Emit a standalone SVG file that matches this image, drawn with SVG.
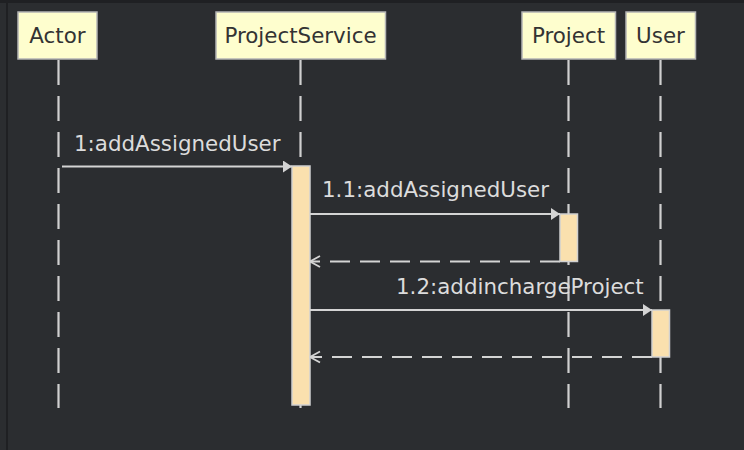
<svg xmlns="http://www.w3.org/2000/svg" width="744" height="450" viewBox="0 0 744 450">
  <style>
    .bg { fill: #2b2d30; }
    .edge { fill: #1f2023; }
    .box { fill: #fefece; stroke: #b4b4b4; stroke-width: 1.5; }
    .boxtext { font-family: "DejaVu Sans", sans-serif; font-size: 21.4px; fill: #333333; text-anchor: middle; }
    .msgtext { font-family: "DejaVu Sans", sans-serif; font-size: 21.4px; fill: #dcdcdc; }
    .life { stroke: #d0d0d0; stroke-width: 2.2; stroke-dasharray: 25 11; fill: none; }
    .act { fill: #fae0ae; stroke: #d0d0d0; stroke-width: 1.5; }
    .msg { stroke: #d4d4d4; stroke-width: 1.8; fill: none; }
    .ret { stroke: #d4d4d4; stroke-width: 1.8; fill: none; stroke-dasharray: 20 10; }
  </style>
  <defs>
    <marker id="solid" markerUnits="userSpaceOnUse" markerWidth="10" markerHeight="13" refX="9" refY="6" orient="auto">
      <path d="M0,0 L9,6 L0,12 Z" fill="#d4d4d4" stroke="none"/>
    </marker>
    <marker id="open" markerUnits="userSpaceOnUse" markerWidth="12" markerHeight="14" refX="10.5" refY="6.5" orient="auto">
      <path d="M0.5,1 L10.5,6.5 L0.5,12" fill="none" stroke="#d4d4d4" stroke-width="1.8" stroke-dasharray="none"/>
    </marker>
  </defs>
  <rect class="bg" x="0" y="0" width="744" height="450"/>
  <rect class="edge" x="0" y="0" width="744" height="3"/>
  <rect class="edge" x="6" y="0" width="2" height="450"/>

  <g id="lifelines">
    <line class="life" x1="58.5" y1="60" x2="58.5" y2="408"/>
    <line class="life" x1="300.5" y1="60" x2="300.5" y2="408"/>
    <line class="life" x1="568.5" y1="60" x2="568.5" y2="408"/>
    <line class="life" x1="660.5" y1="60" x2="660.5" y2="408"/>
  </g>

  <g id="Actor">
    <rect class="box" x="18" y="12" width="79" height="47"/>
    <text class="boxtext" x="57.5" y="43">Actor</text>
  </g>
  <g id="ProjectService">
    <rect class="box" x="216" y="12" width="169.5" height="47"/>
    <text class="boxtext" x="300.5" y="43">ProjectService</text>
    <rect class="act" x="292" y="166" width="18" height="239"/>
  </g>
  <g id="Project">
    <rect class="box" x="522" y="12" width="93.5" height="47"/>
    <text class="boxtext" x="568.5" y="43">Project</text>
    <rect class="act" x="560" y="214" width="17.5" height="47.5"/>
  </g>
  <g id="User">
    <rect class="box" x="626" y="12" width="69.5" height="47"/>
    <text class="boxtext" x="660.5" y="43">User</text>
    <rect class="act" x="652" y="310" width="17.5" height="47"/>
  </g>

  <g id="connectors">
    <line class="msg" x1="62" y1="166.5" x2="292" y2="166.5" marker-end="url(#solid)"/>
    <text class="msgtext" x="74" y="150.5">1:addAssignedUser</text>
    <line class="msg" x1="310" y1="214" x2="560" y2="214" marker-end="url(#solid)"/>
    <text class="msgtext" x="322" y="196.5">1.1:addAssignedUser</text>
    <line class="ret" x1="560" y1="261.5" x2="310" y2="261.5" marker-end="url(#open)"/>
    <line class="msg" x1="310" y1="310" x2="652" y2="310" marker-end="url(#solid)"/>
    <text class="msgtext" x="396" y="294.3">1.2:addinchargeProject</text>
    <line class="ret" x1="652" y1="357" x2="310" y2="357" marker-end="url(#open)"/>
  </g>
</svg>
